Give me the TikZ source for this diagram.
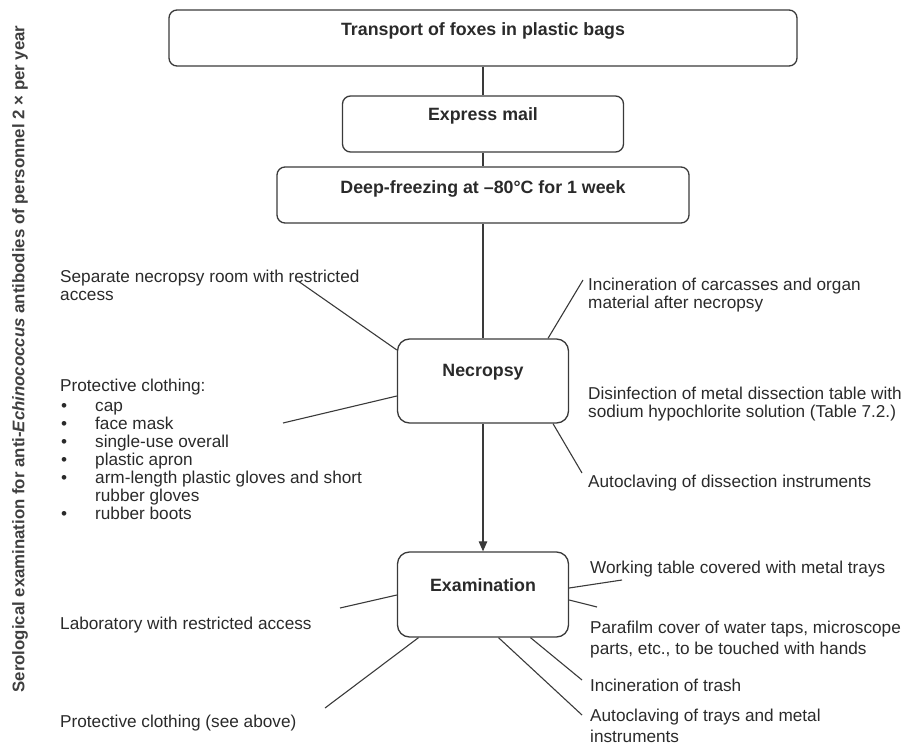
\documentclass[tikz,border=0pt]{standalone}
\usepackage{fontspec}
\setmainfont{Liberation Sans}
\usetikzlibrary{arrows.meta,calc}
\definecolor{linegray}{HTML}{3A3A3A}
\definecolor{txtgray}{HTML}{2A2A2A}
\newcommand{\bul}{\makebox[35pt][l]{\hspace{1pt}\textbullet}}
\begin{document}
\begin{tikzpicture}[x=1pt,y=-1pt,
  box/.style={draw=linegray, line width=1.3pt, rounded corners=8pt, inner sep=0pt},
  boxtext/.style={font=\fontsize{17.8}{19}\selectfont\bfseries, text=txtgray, inner sep=0pt},
  lbl/.style={font=\fontsize{17.2}{18}\selectfont, text=txtgray, align=left, anchor=north west, inner sep=0pt},
  conn/.style={draw=linegray, line width=1.1pt},
]
\useasboundingbox (0,0) rectangle (915,746);

% main boxes
\node[box, minimum width=628, minimum height=56] (transport) at (483,38) {};
\node[boxtext] (transportT) at ([yshift=7]transport.center) {Transport of foxes in plastic bags};
\node[box, minimum width=281, minimum height=56] (express) at (483,124) {};
\node[boxtext] (expressT) at ([yshift=8]express.center) {Express mail};
\node[box, minimum width=412, minimum height=56] (deep) at (483,195) {};
\node[boxtext] (deepT) at ([yshift=6]deep.center) {Deep-freezing at –80°C for 1 week};
\node[box, rounded corners=12pt, minimum width=171, minimum height=84] (necropsy) at (483,381) {};
\node[boxtext] (necropsyT) at ([yshift=9]necropsy.center) {Necropsy};
\node[box, rounded corners=12pt, minimum width=171, minimum height=85] (exam) at (483,594.5) {};
\node[boxtext] (examT) at ([yshift=9.5]exam.center) {Examination};

% flow connectors
\draw[conn] (transport.south) -- (express.north);
\draw[conn] (express.south) -- (deep.north);
\draw[conn] (deep.south) -- (necropsy.north);
\draw[conn, -{Triangle[width=8.5pt,length=10pt]}] (necropsy.south) -- (exam.north);

% vertical side text
\node[font=\fontsize{16.8}{18}\selectfont\bfseries, text=txtgray!90, rotate=90, inner sep=0pt] (sero) at (20,359)
  {Serological examination for anti-\textit{Echinococcus} antibodies of personnel 2 × per year};

% labels
\node[lbl] (sep) at (60,270) {Separate necropsy room with restricted\\access};
\node[lbl] (prot) at (60,379) {Protective clothing:\\[2pt]
  \bul cap\\ \bul face mask\\ \bul single-use overall\\ \bul plastic apron\\
  \bul arm-length plastic gloves and short\\ \hspace*{35pt}rubber gloves\\ \bul rubber boots};
\node[lbl] (inc1) at (588,278) {Incineration of carcasses and organ\\material after necropsy};
\node[lbl] (dis) at (588,387) {Disinfection of metal dissection table with\\sodium hypochlorite solution (Table 7.2.)};
\node[lbl] (aut1) at (588,475) {Autoclaving of dissection instruments};
\node[lbl] (work) at (590,561) {Working table covered with metal trays};
\node[lbl, font=\fontsize{17.2}{21}\selectfont] (para) at (590,621) {Parafilm cover of water taps, microscope\\parts, etc., to be touched with hands};
\node[lbl] (trash) at (590,679) {Incineration of trash};
\node[lbl, font=\fontsize{17.2}{21}\selectfont] (aut2) at (590,709) {Autoclaving of trays and metal\\instruments};
\node[lbl] (lab) at (60,617) {Laboratory with restricted access};
\node[lbl] (prot2) at (60,715) {Protective clothing (see above)};

% free ends of spokes
\coordinate (eSep) at (298,281);
\coordinate (eProt) at (283,423);
\coordinate (eInc1) at (583,280);
\coordinate (eAut1) at (582,473);
\coordinate (eWork) at (622,580);
\coordinate (ePara) at (597,607);
\coordinate (eTrash) at (582,680);
\coordinate (eAut2) at (582,715);
\coordinate (eLab) at (340,608);
\coordinate (eProt2) at (325,708);

% spokes
\draw[conn] ($(necropsy.west)+(0,-31)$) -- (eSep);
\draw[conn] ($(necropsy.west)+(0,15)$) -- (eProt);
\draw[conn] ($(necropsy.north)+(65,0)$) -- (eInc1);
\draw[conn] ($(necropsy.south)+(70,0)$) -- (eAut1);
\draw[conn] ($(exam.east)+(0,-6.5)$) -- (eWork);
\draw[conn] ($(exam.east)+(0,5.5)$) -- (ePara);
\draw[conn] ($(exam.south)+(47.5,0)$) -- (eTrash);
\draw[conn] ($(exam.south)+(15.5,0)$) -- (eAut2);
\draw[conn] ($(exam.west)+(0,0.5)$) -- (eLab);
\draw[conn] ($(exam.south)+(-64.5,0)$) -- (eProt2);
\end{tikzpicture}
\end{document}
